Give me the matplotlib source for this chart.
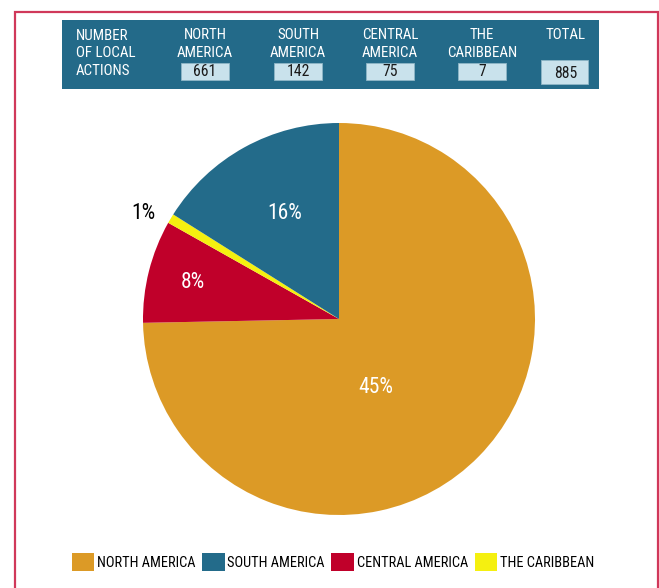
import matplotlib.pyplot as plt
from matplotlib.patches import Rectangle

plt.rcParams['font.family'] = ['Roboto Condensed', 'Archivo Narrow', 'DejaVu Sans']

# data
regions = ['NORTH AMERICA', 'SOUTH AMERICA', 'CENTRAL AMERICA', 'THE CARIBBEAN']
head_names = ['NORTH\nAMERICA', 'SOUTH\nAMERICA', 'CENTRAL\nAMERICA', 'THE\nCARIBBEAN']
actions = [661, 142, 75, 7]
total = 885
pct_labels = ['45%', '16%', '8%', '1%']  # as printed on the chart
colors = ['#DC9A26', '#236B8A', '#C0002A', '#F5F010']

W, H = 659, 588
fig = plt.figure(figsize=(W / 100, H / 100), dpi=100)

def fx(x):
    return x / W

def fy(y):
    return 1 - y / H

# red frame
fig.add_artist(Rectangle((fx(15), fy(600)), fx(658) - fx(15), fy(12) - fy(600),
                         transform=fig.transFigure, fill=False, edgecolor='#D0385A', lw=1.6))

# header table
fig.add_artist(Rectangle((fx(62), fy(89)), fx(599) - fx(62), fy(20) - fy(89),
                         transform=fig.transFigure, facecolor='#236A89', edgecolor='none'))
fs = 10.8
ls = 1.33
fig.text(fx(76), fy(53.3), 'NUMBER\nOF LOCAL\nACTIONS', color='white', fontsize=fs,
         ha='left', va='center', linespacing=ls)
col_x = [205, 298, 390, 482]
for cx, name, v in zip(col_x, head_names, actions):
    fig.text(fx(cx), fy(44), name, color='white', fontsize=fs, ha='center', va='center',
             linespacing=ls)
    fig.add_artist(Rectangle((fx(cx - 24), fy(79.5)), fx(48), fy(63.3) - fy(79.5),
                             transform=fig.transFigure, facecolor='#C9E2EC', edgecolor='#8FB6C6', lw=0.6))
    fig.text(fx(cx), fy(71.5), str(v), color='#1a1a1a', fontsize=11.3, ha='center', va='center')
fig.text(fx(586), fy(35), 'TOTAL', color='white', fontsize=fs, ha='right', va='center')
fig.add_artist(Rectangle((fx(541), fy(84)), fx(47), fy(60) - fy(84),
                         transform=fig.transFigure, facecolor='#C9E2EC', edgecolor='#8FB6C6', lw=0.6))
fig.text(fx(566), fy(73), str(total), color='#1a1a1a', fontsize=11.3, ha='center', va='center')

# pie
cx, cy, r = 339, 319, 196
ax = fig.add_axes([fx(cx - r), fy(cy + r), fx(2 * r), fy(cy - r) - fy(cy + r)])
order = [0, 2, 3, 1]
wedges, _ = ax.pie([actions[i] for i in order], colors=[colors[i] for i in order],
                   startangle=90, counterclock=False, radius=1,
                   wedgeprops=dict(linewidth=0))
ax.set_xlim(-1, 1)
ax.set_ylim(-1, 1)
ax.set_aspect('equal')
ax.axis('off')

pfs = 15.5
ax.text(0.19, -0.35, pct_labels[0], color='white', fontsize=pfs, ha='center', va='center')
ax.text(-0.276, 0.54, pct_labels[1], color='white', fontsize=pfs, ha='center', va='center')
ax.text(-0.745, 0.184, pct_labels[2], color='white', fontsize=pfs, ha='center', va='center')
ax.text(-1.0, 0.54, pct_labels[3], color='black', fontsize=pfs, ha='center', va='center')

# legend in North, South, Central, Caribbean order
handles = [wedges[order.index(i)] for i in range(4)]
fig.legend(handles, regions, loc='center', bbox_to_anchor=(fx(333), fy(562)), ncol=4,
           frameon=False, fontsize=10.4, handlelength=1.55, handleheight=1.55,
           handletextpad=0.2, columnspacing=0.45, borderaxespad=0)

fig.savefig('out.png', dpi=100)
